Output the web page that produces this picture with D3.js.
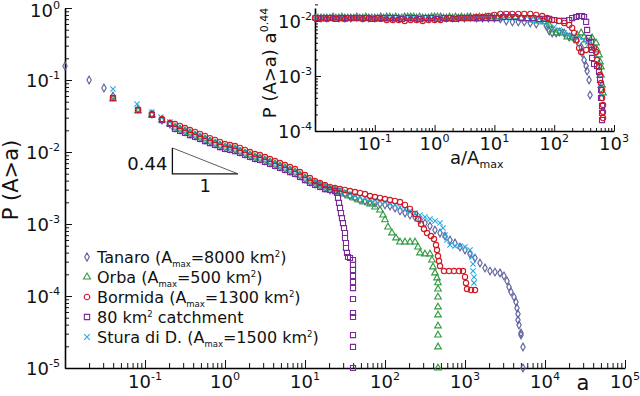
<!DOCTYPE html>
<html>
<head>
<meta charset="utf-8">
<script src="https://cdn.jsdelivr.net/npm/d3@7"></script>
<style>
  body { margin: 0; background: #fff; }
  text { font-family: "DejaVu Sans", Verdana, sans-serif; fill: #111; }
</style>
</head>
<body>
<svg id="chart" width="640" height="396"></svg>
<script>
'use strict';

// main panel: exceedance probability P(A>a) against area a, one [a, P] pair per point
const tanaro = [
  [0.01, 0.156], [0.02, 0.1], [0.0307, 0.0774], [0.0398, 0.0599], [0.0818, 0.0396], [0.122, 0.0337],
  [0.163, 0.0278], [0.205, 0.0245], [0.237, 0.0215], [0.274, 0.0202], [0.316, 0.019], [0.365, 0.0178],
  [0.422, 0.0167], [0.487, 0.0156], [0.562, 0.0147], [0.649, 0.0138], [0.75, 0.0129], [0.866, 0.0121],
  [1, 0.0114], [1.155, 0.011], [1.334, 0.0107], [1.54, 0.01], [1.778, 0.00938], [2.054, 0.0088],
  [2.371, 0.00825], [2.738, 0.00799], [3.162, 0.0075], [3.652, 0.00704], [4.217, 0.0066], [4.87, 0.00619],
  [5.623, 0.00581], [6.494, 0.00545], [7.499, 0.00511], [8.66, 0.00464], [10, 0.00422], [11.55, 0.00383],
  [13.34, 0.00359], [15.4, 0.00337], [17.78, 0.00316], [20.54, 0.00297], [23.71, 0.00287], [27.38, 0.00278],
  [31.62, 0.00261], [36.52, 0.00245], [42.17, 0.0023], [48.7, 0.00215], [56.23, 0.00209], [64.94, 0.00202],
  [74.99, 0.00196], [86.6, 0.0019], [100, 0.00184], [115.5, 0.00178], [133.4, 0.00167], [154, 0.00152],
  [177.8, 0.00142], [205.4, 0.00133], [237.1, 0.00125], [273.8, 0.00114], [316.2, 0.00103], [365.2, 0.000938],
  [421.7, 0.000825], [487, 0.00075], [562.3, 0.000681], [649.4, 0.000599], [749.9, 0.000545], [866, 0.000479],
  [1000, 0.000435], [1155, 0.000383], [1334, 0.000337], [1540, 0.000287], [1778, 0.000245], [2054, 0.000222],
  [2371, 0.000215], [2738, 0.000209], [3072, 0.00019], [3350, 0.000162], [3548, 0.000133], [3758, 0.000114],
  [4097, 0.0000968], [4340, 0.0000825], [4467, 0.0000681], [4597, 0.0000562], [4597, 0.0000464], [4732, 0.0000396],
  [5012, 0.0000306], [5012, 0.0000287], [5309, 0.0000196], [5309, 0.00001]
];

const orba = [
  [0.0398, 0.0545], [0.0818, 0.0371], [0.122, 0.0327], [0.163, 0.0278], [0.205, 0.0245], [0.237, 0.0222],
  [0.274, 0.0209], [0.316, 0.0196], [0.365, 0.0184], [0.422, 0.0172], [0.487, 0.0162], [0.562, 0.0152],
  [0.649, 0.0142], [0.75, 0.0133], [0.866, 0.0125], [1, 0.0117], [1.155, 0.0114], [1.334, 0.011],
  [1.54, 0.0103], [1.778, 0.00968], [2.054, 0.00909], [2.371, 0.00852], [2.738, 0.00825], [3.162, 0.00774],
  [3.652, 0.00726], [4.217, 0.00681], [4.87, 0.00639], [5.623, 0.00599], [6.494, 0.00562], [7.499, 0.00527],
  [8.66, 0.00479], [10, 0.00435], [11.55, 0.00396], [13.34, 0.00371], [15.4, 0.00348], [17.78, 0.00327],
  [20.54, 0.00306], [23.71, 0.00297], [27.38, 0.00278], [31.62, 0.00261], [36.52, 0.00245], [42.17, 0.0023],
  [48.7, 0.00215], [56.23, 0.00202], [64.94, 0.0019], [74.99, 0.00172], [86.6, 0.00156], [94.4, 0.00133],
  [100, 0.00114], [109, 0.000908], [122.3, 0.00075], [137.3, 0.000639], [154, 0.000562], [177.8, 0.000562],
  [205.4, 0.000562], [237.1, 0.000562], [258.5, 0.000479], [273.8, 0.000396], [316.2, 0.000383], [365.2, 0.000383],
  [386.7, 0.000316], [398.1, 0.000253], [421.7, 0.000209], [446.7, 0.000178], [459.7, 0.000152], [459.7, 0.000125],
  [459.7, 0.0000968], [459.7, 0.0000704], [459.7, 0.0000545], [459.7, 0.0000383], [459.7, 0.0000287],
  [459.7, 0.0000196], [459.7, 0.00001]
];

const bormida = [
  [0.0398, 0.0562], [0.0818, 0.0383], [0.122, 0.0337], [0.163, 0.0287], [0.205, 0.0253], [0.237, 0.0245],
  [0.274, 0.023], [0.316, 0.0215], [0.365, 0.0202], [0.422, 0.019], [0.487, 0.0178], [0.562, 0.0167],
  [0.649, 0.0156], [0.75, 0.0147], [0.866, 0.0138], [1, 0.0129], [1.155, 0.0125], [1.334, 0.0121],
  [1.54, 0.0114], [1.778, 0.0107], [2.054, 0.01], [2.371, 0.00938], [2.738, 0.00909], [3.162, 0.00852],
  [3.652, 0.00799], [4.217, 0.0075], [4.87, 0.00704], [5.623, 0.0066], [6.494, 0.00619], [7.499, 0.00581],
  [8.66, 0.00527], [10, 0.00479], [11.55, 0.00435], [13.34, 0.00396], [15.4, 0.00371], [17.78, 0.00348],
  [20.54, 0.00327], [23.71, 0.00316], [27.38, 0.00306], [31.62, 0.00297], [36.52, 0.00287], [42.17, 0.00278],
  [48.7, 0.0027], [56.23, 0.00261], [64.94, 0.00245], [74.99, 0.00237], [86.6, 0.0023], [100, 0.00222],
  [115.5, 0.00215], [133.4, 0.00209], [154, 0.00202], [177.8, 0.00184], [205.4, 0.00162], [237.1, 0.00138],
  [258.5, 0.00117], [281.8, 0.001], [307.2, 0.000852], [335, 0.00075], [375.8, 0.000681], [409.7, 0.000619],
  [434, 0.000511], [446.7, 0.000435], [459.7, 0.000359], [473.2, 0.000306], [487, 0.000261], [546.4, 0.000222],
  [631, 0.000222], [728.6, 0.000222], [841.4, 0.000222], [944.1, 0.000222], [1000, 0.000184], [1029, 0.000152],
  [1059, 0.000125], [1189, 0.000121], [1334, 0.000121]
];

const catch80 = [
  [0.0398, 0.0562], [0.0818, 0.0383], [0.122, 0.0327], [0.163, 0.0278], [0.205, 0.0245], [0.237, 0.0209],
  [0.274, 0.0196], [0.316, 0.0184], [0.365, 0.0172], [0.422, 0.0162], [0.487, 0.0152], [0.562, 0.0142],
  [0.649, 0.0133], [0.75, 0.0125], [0.866, 0.0117], [1, 0.011], [1.155, 0.0107], [1.334, 0.0103],
  [1.54, 0.00968], [1.778, 0.00909], [2.054, 0.00852], [2.371, 0.00799], [2.738, 0.00774], [3.162, 0.00726],
  [3.652, 0.00681], [4.217, 0.00639], [4.87, 0.00599], [5.623, 0.00562], [6.494, 0.00527], [7.499, 0.00495],
  [8.66, 0.0045], [10, 0.00408], [11.55, 0.00371], [13.34, 0.00348], [15.4, 0.00327], [17.78, 0.00306],
  [20.54, 0.00297], [23.71, 0.00287], [25.12, 0.0027], [25.85, 0.0023], [26.61, 0.00196], [27.38, 0.00167],
  [28.18, 0.00142], [29, 0.00121], [29.85, 0.00103], [30.72, 0.00088], [31.62, 0.00075], [31.62, 0.000639],
  [32.54, 0.000545], [32.54, 0.000464], [33.5, 0.000396], [34.47, 0.000348], [36.52, 0.000337], [39.81, 0.000316],
  [39.81, 0.00027], [39.81, 0.00023], [39.81, 0.00019], [39.81, 0.000156], [39.81, 0.000129], [39.81, 0.0000908],
  [39.81, 0.0000581], [39.81, 0.0000511], [39.81, 0.0000287], [39.81, 0.0000196], [39.81, 0.00001]
];

const stura = [
  [0.0398, 0.075], [0.0794, 0.0464], [0.122, 0.0359], [0.158, 0.0306], [0.205, 0.0261], [0.237, 0.023],
  [0.274, 0.0215], [0.316, 0.0202], [0.365, 0.019], [0.422, 0.0178], [0.487, 0.0167], [0.562, 0.0156],
  [0.649, 0.0147], [0.75, 0.0138], [0.866, 0.0129], [1, 0.0121], [1.155, 0.0117], [1.334, 0.0114],
  [1.54, 0.0107], [1.778, 0.01], [2.054, 0.00938], [2.371, 0.0088], [2.738, 0.00852], [3.162, 0.00799],
  [3.652, 0.0075], [4.217, 0.00704], [4.87, 0.0066], [5.623, 0.00619], [6.494, 0.00581], [7.499, 0.00545],
  [8.66, 0.00495], [10, 0.0045], [11.55, 0.00408], [13.34, 0.00383], [15.4, 0.00359], [17.78, 0.00337],
  [20.54, 0.00316], [23.71, 0.00306], [27.38, 0.00297], [31.62, 0.00278], [36.52, 0.00261], [42.17, 0.00245],
  [48.7, 0.00237], [56.23, 0.0023], [64.94, 0.00222], [74.99, 0.00215], [86.6, 0.00209], [100, 0.00202],
  [115.5, 0.0019], [133.4, 0.00184], [154, 0.00172], [177.8, 0.00162], [205.4, 0.00152], [237.1, 0.00142],
  [273.8, 0.00133], [316.2, 0.00125], [365.2, 0.00117], [421.7, 0.0011], [487, 0.00103], [530.9, 0.00088],
  [562.3, 0.000704], [595.7, 0.000599], [649.4, 0.000511], [749.9, 0.000495], [866, 0.000495], [1000, 0.000479],
  [1155, 0.000435], [1223, 0.000348], [1259, 0.000278], [1259, 0.000222], [1296, 0.000184], [1296, 0.000152]
];

// inset: P(A>a) a^0.44 against a/Amax
const insetTanaro = [
  [0.01, 0.0113], [0.0126, 0.0113], [0.0158, 0.0113], [0.02, 0.0118], [0.0251, 0.0113], [0.0316, 0.0113],
  [0.0398, 0.0113], [0.0501, 0.0118], [0.0631, 0.0113], [0.0794, 0.0113], [0.1, 0.0113], [0.126, 0.0118],
  [0.158, 0.0118], [0.2, 0.0113], [0.251, 0.0113], [0.316, 0.0118], [0.398, 0.0118], [0.501, 0.0113],
  [0.631, 0.0113], [0.794, 0.0113], [1, 0.0118], [1.26, 0.0118], [1.58, 0.0113], [2, 0.0113],
  [2.51, 0.0113], [3.16, 0.0113], [3.98, 0.0118], [5.01, 0.0113], [6.31, 0.0113], [7.94, 0.0113],
  [10, 0.0113], [12.6, 0.0109], [15.8, 0.01], [20, 0.0096], [25.1, 0.0096], [31.6, 0.0096],
  [39.8, 0.0092], [50.1, 0.0088], [73.6, 0.0081], [82.5, 0.00658], [92.6, 0.00605], [108, 0.00605],
  [121, 0.00631], [147, 0.00605], [178, 0.00512], [215, 0.00471], [242, 0.00433], [282, 0.00337],
  [293, 0.00262], [316, 0.00195], [342, 0.00152], [355, 0.00123], [383, 0.000846], [398, 0.000451]
];

const insetOrba = [
  [0.0112, 0.0113], [0.0141, 0.0113], [0.0178, 0.0113], [0.0224, 0.0113], [0.0282, 0.0118], [0.0355, 0.0113],
  [0.0447, 0.0113], [0.0562, 0.0113], [0.0708, 0.0118], [0.0891, 0.0113], [0.112, 0.0113], [0.141, 0.0113],
  [0.178, 0.0118], [0.224, 0.0118], [0.282, 0.0113], [0.355, 0.0118], [0.447, 0.0118], [0.562, 0.0118],
  [0.708, 0.0113], [0.891, 0.0118], [1.12, 0.0118], [1.41, 0.0113], [1.78, 0.0118], [2.24, 0.0118],
  [2.82, 0.0118], [3.55, 0.0118], [4.47, 0.0113], [5.62, 0.0118], [7.08, 0.0118], [8.91, 0.0118],
  [11.2, 0.0118], [14.1, 0.0123], [17.8, 0.0123], [22.4, 0.0118], [28.2, 0.0113], [35.5, 0.0109],
  [44.7, 0.0104], [56.2, 0.01], [70.8, 0.0096], [82.5, 0.00846], [92.6, 0.00686], [108, 0.00605],
  [136, 0.00605], [165, 0.00512], [200, 0.00491], [242, 0.00557], [282, 0.00605], [316, 0.00512],
  [342, 0.00451], [383, 0.00415], [430, 0.00491], [501, 0.00398], [521, 0.00297], [562, 0.00241],
  [584, 0.0018], [607, 0.00146], [607, 0.00104], [631, 0.000686], [656, 0.000491]
];

const insetBormida = [
  [0.01, 0.0113], [0.0126, 0.0113], [0.0158, 0.0109], [0.02, 0.0113], [0.0251, 0.0113], [0.0316, 0.0109],
  [0.0398, 0.0113], [0.0501, 0.0113], [0.0631, 0.0109], [0.0794, 0.0113], [0.1, 0.0109], [0.126, 0.0109],
  [0.158, 0.0104], [0.2, 0.0104], [0.251, 0.0104], [0.316, 0.01], [0.398, 0.0104], [0.501, 0.0104],
  [0.631, 0.01], [0.794, 0.0104], [1, 0.0104], [1.26, 0.0104], [1.58, 0.0109], [2, 0.0109],
  [2.51, 0.0113], [3.16, 0.0113], [3.98, 0.0113], [5.01, 0.0118], [6.31, 0.0118], [7.94, 0.0123],
  [10, 0.0129], [12.6, 0.0134], [15.8, 0.0134], [20, 0.0134], [25.1, 0.0134], [31.6, 0.0134],
  [39.8, 0.0134], [50.1, 0.0129], [63.1, 0.0123], [76.4, 0.0113], [92.6, 0.0104], [121, 0.01],
  [147, 0.0092], [178, 0.00846], [200, 0.00746], [215, 0.00605], [233, 0.00451], [261, 0.00323],
  [282, 0.00273], [342, 0.00297], [414, 0.00337], [464, 0.00323], [501, 0.00273], [521, 0.00195],
  [562, 0.00146], [584, 0.00104], [607, 0.000746], [631, 0.000557], [631, 0.000398], [656, 0.000297],
  [656, 0.000222], [656, 0.000172]
];

const insetCatch80 = [
  [0.0112, 0.0113], [0.0141, 0.0113], [0.0178, 0.0113], [0.0224, 0.0109], [0.0282, 0.0113], [0.0355, 0.0113],
  [0.0447, 0.0113], [0.0562, 0.0113], [0.0708, 0.0113], [0.0891, 0.0109], [0.112, 0.0113], [0.141, 0.0113],
  [0.178, 0.0113], [0.224, 0.0113], [0.282, 0.0109], [0.355, 0.0113], [0.447, 0.0113], [0.562, 0.0109],
  [0.708, 0.0113], [0.891, 0.0113], [1.12, 0.0109], [1.41, 0.0113], [1.78, 0.0113], [2.24, 0.0109],
  [2.82, 0.0113], [3.55, 0.0113], [4.47, 0.0113], [5.62, 0.0113], [7.08, 0.0113], [8.91, 0.0113],
  [11.2, 0.0113], [14.1, 0.0118], [17.8, 0.0118], [22.4, 0.0118], [28.2, 0.0113], [35.5, 0.0113],
  [44.7, 0.0113], [56.2, 0.0109], [70.8, 0.0109], [82.5, 0.0109], [100, 0.0104], [121, 0.01],
  [147, 0.01], [178, 0.0104], [200, 0.0113], [233, 0.0118], [261, 0.0123], [293, 0.0123],
  [316, 0.0118], [342, 0.00959], [355, 0.00686], [383, 0.00491], [414, 0.00415], [430, 0.00297],
  [430, 0.00213], [464, 0.00165], [521, 0.00152], [562, 0.00118], [584, 0.000846], [607, 0.000557],
  [607, 0.000398], [631, 0.000285], [631, 0.000213], [631, 0.000158]
];

const insetStura = [
  [0.01, 0.0113], [0.0126, 0.0109], [0.0158, 0.0113], [0.02, 0.0113], [0.0251, 0.0113], [0.0316, 0.0109],
  [0.0398, 0.0113], [0.0501, 0.0113], [0.0631, 0.0113], [0.0794, 0.0113], [0.1, 0.0109], [0.126, 0.0113],
  [0.158, 0.0113], [0.2, 0.0113], [0.251, 0.0113], [0.316, 0.0113], [0.398, 0.0109], [0.501, 0.0113],
  [0.631, 0.0113], [0.794, 0.0113], [1, 0.0113], [1.26, 0.0113], [1.58, 0.0113], [2, 0.0109],
  [2.51, 0.0113], [3.16, 0.0113], [3.98, 0.0113], [5.01, 0.0109], [6.31, 0.0113], [7.94, 0.0113],
  [10, 0.0113], [12.6, 0.0113], [15.8, 0.0113], [20, 0.0113], [25.1, 0.0113], [31.6, 0.0109],
  [39.8, 0.0104], [50.1, 0.01], [63.1, 0.0096], [79.4, 0.00882], [100, 0.00778], [121, 0.00686],
  [147, 0.00605], [178, 0.00557], [215, 0.00534], [261, 0.00512], [316, 0.00451], [383, 0.00382],
  [447, 0.00323], [501, 0.00241], [541, 0.00158], [562, 0.00104], [584, 0.000686], [607, 0.000451]
];

// tick exponents
const mainXExp = [-1, 0, 1, 2, 3, 4, 5];
const mainYExp = [0, -1, -2, -3, -4, -5];
const insetXExp = [-1, 0, 1, 2, 3];
const insetYExp = [-2, -3, -4];

const seriesNames = ['Tanaro', 'Orba', 'Bormida', '80 km2 catchment', 'Stura di D.'];
const seriesAmax = ['8000', '500', '1300', null, '1500'];

const svg = d3.select('#chart');

const x = d3.scaleLog().domain([1e-2, 1e5]).range([65, 625]);
const y = d3.scaleLog().domain([1e-5, 1]).range([368, 8]);
const xIn = d3.scaleLog().domain([1e-2, 1e3]).range([315, 614]);
const yIn = d3.scaleLog().domain([1e-4, 0.0172]).range([131, 8]);

const styles = [
  { data: tanaro, inset: insetTanaro, type: d3.symbolDiamond, size: 17, color: '#5b5f9c' },
  { data: orba, inset: insetOrba, type: d3.symbolTriangle, size: 19, color: '#2f9a40' },
  { data: stura, inset: insetStura, type: d3.symbolTimes || d3.symbolX, size: 20, color: '#29a9e0' },
  { data: catch80, inset: insetCatch80, type: d3.symbolSquare, size: 26, color: '#7a2b98' },
  { data: bormida, inset: insetBormida, type: d3.symbolCircle, size: 22, color: '#d11a24' }
];
const legendOrder = [0, 1, 4, 3, 2];

function minorTicks(lo, hi) {
  const t = [];
  for (let e = lo; e < hi; e++) {
    for (let m = 2; m < 10; m++) t.push(m * Math.pow(10, e));
  }
  return t;
}

function axis(g, maker, scale, majors, minors, bigLen, smallLen) {
  g.append('g')
    .call(maker(scale).tickValues(minors).tickSize(-smallLen).tickSizeOuter(0).tickFormat(''))
    .call((s) => s.select('.domain').remove());
  g.append('g')
    .call(maker(scale).tickValues(majors).tickSize(-bigLen).tickSizeOuter(0).tickFormat(''))
    .call((s) => s.select('.domain').attr('stroke-width', 1.6));
  g.selectAll('line').attr('stroke', '#111');
}

function powLabel(g, px, py, exp, anchor, size) {
  const t = g.append('text')
    .attr('x', px)
    .attr('y', py)
    .attr('text-anchor', anchor)
    .attr('font-size', size);
  t.append('tspan').text('10');
  t.append('tspan')
    .attr('dy', -size * 0.42)
    .attr('font-size', size * 0.62)
    .text(exp);
}

// ---- main panel axes
const mainLeft = svg.append('g').attr('transform', 'translate(65,0)');
axis(mainLeft, d3.axisLeft, y, mainYExp.map((e) => Math.pow(10, e)), minorTicks(-5, 0), 7, 4);
const mainBottom = svg.append('g').attr('transform', 'translate(0,368)');
axis(mainBottom, d3.axisBottom, x, [-2].concat(mainXExp).map((e) => Math.pow(10, e)), minorTicks(-2, 5), 8, 5);

mainYExp.forEach((e) => powLabel(svg, 60, Math.max(y(Math.pow(10, e)) + 7, 17), String(e), 'end', 18));
mainXExp.forEach((e) => powLabel(svg, x(Math.pow(10, e)), 388, String(e), 'middle', 18));

svg.append('text')
  .attr('transform', 'translate(18,180) rotate(-90)')
  .attr('text-anchor', 'middle')
  .attr('font-size', 21)
  .text('P (A>a)');

svg.append('text')
  .attr('x', 583)
  .attr('y', 390)
  .attr('text-anchor', 'middle')
  .attr('font-size', 21)
  .text('a');

// ---- inset axes
const insetLeft = svg.append('g').attr('transform', 'translate(315,0)');
axis(insetLeft, d3.axisLeft, yIn, insetYExp.map((e) => Math.pow(10, e)), minorTicks(-4, -2).concat([0.02]), 6, 3);
const insetBottom = svg.append('g').attr('transform', 'translate(0,131)');
axis(insetBottom, d3.axisBottom, xIn, [-2].concat(insetXExp).map((e) => Math.pow(10, e)), minorTicks(-2, 3), 6, 3);

insetYExp.forEach((e) => powLabel(svg, 312, yIn(Math.pow(10, e)) + 7, String(e), 'end', 18));
insetXExp.forEach((e) => powLabel(svg, xIn(Math.pow(10, e)), 150, String(e), 'middle', 18));

const insetYTitle = svg.append('text')
  .attr('transform', 'translate(276,63) rotate(-90)')
  .attr('text-anchor', 'middle')
  .attr('font-size', 18);
insetYTitle.append('tspan').text('P (A>a) a');
insetYTitle.append('tspan').attr('dy', -8).attr('font-size', 11).text('0.44');

const insetXTitle = svg.append('text')
  .attr('x', 450)
  .attr('y', 164)
  .attr('font-size', 18);
insetXTitle.append('tspan').text('a/A');
insetXTitle.append('tspan').attr('dy', 4).attr('font-size', 11).text('max');

// ---- points
function drawPoints(g, data, sx, sy, st) {
  const sym = d3.symbol().type(st.type).size(st.size);
  g.selectAll(null)
    .data(data)
    .enter()
    .append('path')
    .attr('d', sym)
    .attr('transform', (d) => 'translate(' + sx(d[0]) + ',' + sy(d[1]) + ')')
    .attr('fill', 'none')
    .attr('stroke', st.color)
    .attr('stroke-width', 1.1);
}

const pointsLayer = svg.append('g');
styles.forEach((st) => {
  drawPoints(pointsLayer, st.data, x, y, st);
  drawPoints(pointsLayer, st.inset, xIn, yIn, st);
});

// ---- slope triangle (exponent 0.44)
const triA0 = 0.22;
const triA1 = 1.45;
const triTop = 0.0114;
const triBottom = triTop * Math.pow(triA0 / triA1, 0.44);
const tri = svg.append('g').attr('fill', 'none');
tri.append('path')
  .attr('d', 'M' + x(triA0) + ',' + y(triTop) + 'V' + y(triBottom) + 'H' + x(triA1))
  .attr('stroke', '#111')
  .attr('stroke-width', 1.3);
tri.append('path')
  .attr('d', 'M' + x(triA0) + ',' + y(triTop) + 'L' + x(triA1) + ',' + y(triBottom))
  .attr('stroke', '#333')
  .attr('stroke-width', 0.8);
svg.append('text')
  .attr('x', x(triA0) - 5)
  .attr('y', 170)
  .attr('text-anchor', 'end')
  .attr('font-size', 18)
  .text('0.44');
svg.append('text')
  .attr('x', (x(triA0) + x(triA1)) / 2)
  .attr('y', 192)
  .attr('text-anchor', 'middle')
  .attr('font-size', 18)
  .text('1');

// ---- legend
const legend = svg.append('g').attr('transform', 'translate(87,257)');
legendOrder.forEach((si, i) => {
  const st = styles[si];
  const row = legend.append('g').attr('transform', 'translate(0,' + (i * 20) + ')');
  row.append('path')
    .attr('d', d3.symbol().type(st.type).size(st.size + 2))
    .attr('fill', 'none')
    .attr('stroke', st.color)
    .attr('stroke-width', 1.1);
  const t = row.append('text').attr('x', 10).attr('y', 6).attr('font-size', 16);
  const name = seriesNames[i];
  const amax = seriesAmax[i];
  if (amax) {
    t.append('tspan').text(name + ' (A');
    t.append('tspan').attr('dy', 4).attr('font-size', 8.5).text('max');
    t.append('tspan').attr('dy', -4).text('=' + amax + ' km');
    t.append('tspan').attr('dy', -6).attr('font-size', 8.5).text('2');
    t.append('tspan').attr('dy', 6).text(')');
  } else {
    t.append('tspan').text('80 km');
    t.append('tspan').attr('dy', -6).attr('font-size', 8.5).text('2');
    t.append('tspan').attr('dy', 6).text(' catchment');
  }
});
</script>
</body>
</html>
